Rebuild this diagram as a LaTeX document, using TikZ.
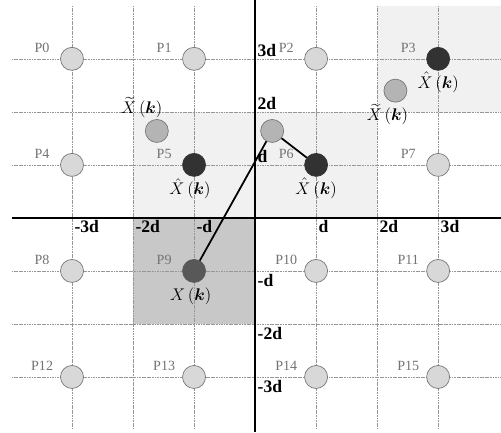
\documentclass[tikz,border=0pt]{standalone}
\usepackage{amsmath, amssymb}
\usepackage{fontspec}
\setmainfont{Liberation Serif}
\usepackage{tikz}
\usetikzlibrary{positioning, calc}
\definecolor{gridgray}{RGB}{150,150,150}
\definecolor{shadelight}{RGB}{241,241,241}
\definecolor{shadedark}{RGB}{200,200,200}
\definecolor{dotlight}{RGB}{216,216,216}
\definecolor{dotmid}{RGB}{180,180,180}
\definecolor{dotdark}{RGB}{50,50,50}
\definecolor{dotsel}{RGB}{88,88,88}
\definecolor{rimgray}{RGB}{120,120,120}
\definecolor{labgray}{RGB}{115,115,115}

\begin{document}
\begin{tikzpicture}[x=1.83cm, y=1.59cm]
  \tikzstyle{gridline} = [draw=gridgray, line width=0.5pt, dash pattern=on 1pt off 0.4pt]
  \tikzstyle{axisline} = [draw=black, line width=2pt]
  \tikzstyle{pt} = [circle, draw=rimgray, line width=0.6pt, fill=dotlight, minimum size=0.69cm, inner sep=0pt]
  \tikzstyle{ptmid} = [pt, fill=dotmid]
  \tikzstyle{ptdark} = [pt, fill=dotdark, draw=dotdark]
  \tikzstyle{ptsel} = [pt, fill=dotsel, draw=dotsel]
  \tikzstyle{plab} = [font=\large\color{labgray}, inner sep=0pt]
  \tikzstyle{tick} = [font=\fontsize{15}{17}\selectfont\bfseries, inner sep=2pt]
  \tikzstyle{mlab} = [font=\Large, inner sep=0pt]
  \tikzstyle{link} = [draw=black, line width=1.5pt]

  \useasboundingbox (-4.18,-4.04) rectangle (4.03,4.11);

  % Shaded cells
  \fill[shadelight] (-2,0) rectangle (2,2);
  \fill[shadelight] (2,2) rectangle (4.03,4.0);
  \fill[shadedark] (-2,-2) rectangle (0,0);

  % Grid
  \foreach \k in {-3,...,3} {
    \draw[gridline] (-3.98,\k) -- (4.03,\k);
    \draw[gridline] (\k,-3.98) -- (\k,4.0);
  }

  % Axes
  \draw[axisline] (-3.98,0) -- (4.03,0);
  \draw[axisline] (0,-4.04) -- (0,4.11);

  % Axis labels
  \foreach \k/\t in {-3/-3d, -2/-2d, -1/-d, 1/d, 2/2d, 3/3d}
    \node[tick, anchor=north west] (xl\k) at (\k,0) {\t};
  \foreach \k/\t in {1/d, 2/2d, 3/3d}
    \node[tick, anchor=south west] (yl\k) at (0,\k) {\t};
  \foreach \k/\t in {-1/-d, -2/-2d, -3/-3d}
    \node[tick, anchor=north west, yshift=-1pt] (yl\k) at (0,\k) {\t};

  % Lattice points P0 .. P15
  \foreach \i/\s in {0/pt, 1/pt, 2/pt, 3/ptdark, 4/pt, 5/ptdark, 6/ptdark, 7/pt,
                     8/pt, 9/ptsel, 10/pt, 11/pt, 12/pt, 13/pt, 14/pt, 15/pt} {
    \pgfmathtruncatemacro{\c}{mod(\i,4)}
    \pgfmathtruncatemacro{\r}{div(\i,4)}
    \node[\s] (p\i) at ({-3+2*\c},{3-2*\r}) {};
    \node[plab] (lp\i) at ($(p\i)+(-0.49,0.21)$) {P\i};
  }

  % Received points
  \node[ptmid] (xt1) at (-1.61,1.64) {};
  \node[ptmid] (xm) at (0.28,1.64) {};
  \node[ptmid] (xt2) at (2.30,2.40) {};

  % Point labels
  \node[mlab, above=1pt of xt1, xshift=-0.45cm] (lxt1) {$\widetilde{X}\,(\boldsymbol{k})$};
  \node[mlab, below=1pt of xt2, xshift=-0.24cm] (lxt2) {$\widetilde{X}\,(\boldsymbol{k})$};
  \node[mlab, below=1pt of p3] (lh3) {$\hat{X}\,(\boldsymbol{k})$};
  \node[mlab, below=1.5pt of p5, xshift=-0.12cm] (lh5) {$\hat{X}\,(\boldsymbol{k})$};
  \node[mlab, below=1pt of p6] (lh6) {$\hat{X}\,(\boldsymbol{k})$};
  \node[mlab, below=4pt of p9, xshift=-0.1cm] (lx9) {$X\,(\boldsymbol{k})$};

  % Path
  \draw[link] (p9) -- (xm) -- (p6);
\end{tikzpicture}
\end{document}
